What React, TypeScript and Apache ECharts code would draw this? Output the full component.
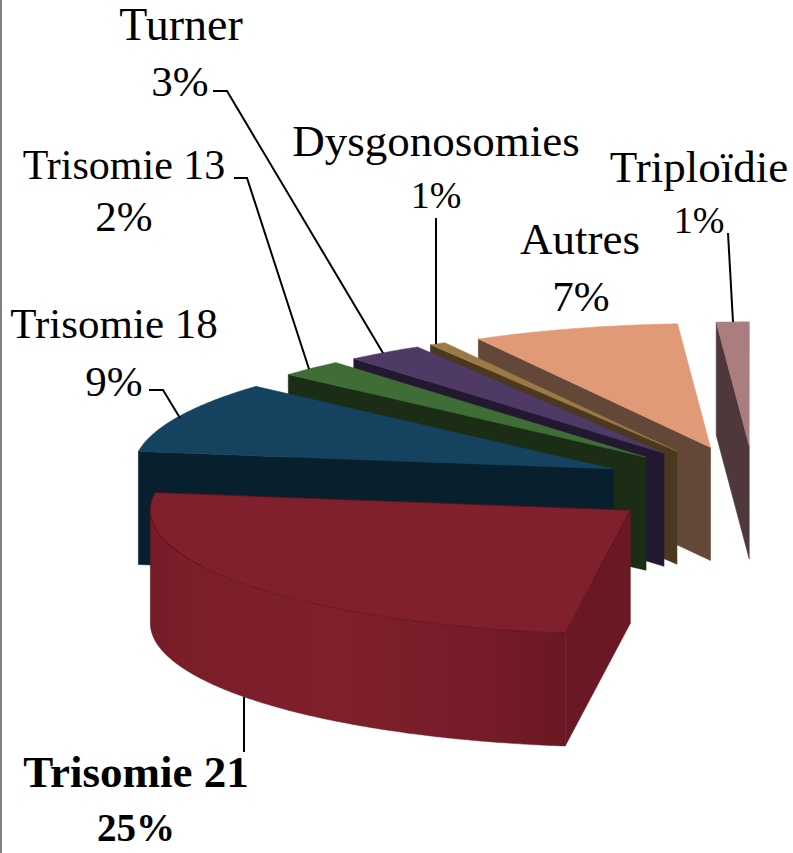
import React, { useEffect, useRef } from "react";
import * as echarts from "echarts";

const categories = ["Trisomie 21", "Trisomie 18", "Trisomie 13", "Turner", "Dysgonosomies", "Autres", "Triploïdie"];
const seriesValues = [25.1, 9.35, 2.2, 2.6, 0.55, 6.94, 1.1];
const topColors = ["#7F202C", "#15435F", "#3F6D35", "#4F3A65", "#9C7A45", "#E09A78", "#AB7D7F"];
const wallColors = ["#6A1823", "#08202E", "#1B2E15", "#221830", "#4A3820", "#634737", "#4E383B"];

const START_ANGLE = 97.8;
const CX = 754.5, CY = 486, RX = 480, RY = 124, DEPTH = 113, EXPLODE = 0.324;
const FONT = "'Liberation Serif', serif";

const labelPlaces = [
  { n: [136, 772], p: [136, 827], ns: 45, ps: 39, bold: true },
  { n: [114, 323], p: [114, 381], ns: 43, ps: 43 },
  { n: [124, 165], p: [124, 216], ns: 42, ps: 43 },
  { n: [181, 24], p: [180, 81], ns: 46, ps: 43 },
  { n: [436, 141], p: [436, 195], ns: 45, ps: 38 },
  { n: [580, 239], p: [581, 296], ns: 45, ps: 43 },
  { n: [699, 167], p: [699, 220], ns: 45, ps: 38 },
];
const leaders = [
  [[244, 697], [244, 752]],
  [[149, 390], [163, 390], [180, 418]],
  [[234, 178], [247, 178], [309, 369]],
  [[213, 91], [227, 91], [383, 353]],
  [[436, 218], [436, 344]],
  [[728, 233], [733, 322]],
];

const rad = (d: number) => (d * Math.PI) / 180;

function renderItem(params: any, api: any) {
  const i = api.value(0) as number;
  const t0 = api.value(1) as number;
  const t1 = api.value(2) as number;
  const mid = rad((t0 + t1) / 2);
  const ax = CX + EXPLODE * RX * Math.cos(mid);
  const ay = CY + EXPLODE * RY * Math.sin(mid);
  const at = (d: number): number[] => [ax + RX * Math.cos(rad(d)), ay + RY * Math.sin(rad(d))];
  const down = (p: number[]): number[] => [p[0], p[1] + DEPTH];
  const arc: number[][] = [];
  const steps = Math.max(2, Math.ceil(t1 - t0) * 2);
  for (let k = 0; k <= steps; k++) arc.push(at(t0 + ((t1 - t0) * k) / steps));
  const top = topColors[i];
  const wall = wallColors[i];
  const isMain = i === 0;
  const edge = isMain ? "#57121C" : top;
  const children: any[] = [];

  // Radial wall on the slice's leading edge
  const p0 = at(t0);
  children.push({
    type: "polygon",
    shape: { points: [[ax, ay], p0, down(p0), [ax, ay + DEPTH]] },
    style: { fill: wall, stroke: wall, lineWidth: 0.6 },
  });

  // Outer curved wall where it faces the viewer
  const front: number[][] = [];
  const fEnd = Math.min(t1, 180);
  if (t0 < 180) {
    for (let d = t0; d <= fEnd + 0.001; d += 0.5) front.push(at(d));
    children.push({
      type: "polygon",
      shape: { points: [...front, ...front.map(down).reverse()] },
      style: {
        fill: new echarts.graphic.LinearGradient(0, 0, 1, 0, [
          { offset: 0, color: "#741C28" },
          { offset: 0.08, color: "#7A1E2A" },
          { offset: 0.45, color: "#7F202C" },
          { offset: 0.85, color: "#731B27" },
          { offset: 1, color: "#6A1823" },
        ]),
        stroke: "#6A1823",
        lineWidth: 0.5,
      },
    });
  }

  // Top face
  children.push({
    type: "polygon",
    shape: { points: [[ax, ay], ...arc] },
    style: { fill: top, stroke: edge, lineWidth: isMain ? 0.8 : 0.5 },
  });
  return { type: "group", children };
}

export default function App() {
  const ref = useRef<HTMLDivElement>(null);
  useEffect(() => {
    document.body.style.margin = "0";
    const chart = echarts.init(ref.current!, undefined, { renderer: "svg" });
    let acc = START_ANGLE;
    const rows = seriesValues.map((v, i) => {
      const t0 = acc;
      acc += v * 3.6;
      return [i, t0, acc, v];
    });
    const texts: any[] = [];
    categories.forEach((name, i) => {
      const pl: any = labelPlaces[i];
      const w = pl.bold ? "bold " : "";
      texts.push(
        { type: "text", x: pl.n[0], y: pl.n[1], z: 10, style: { text: name, font: `${w}${pl.ns}px ${FONT}`, fill: "#000", textAlign: "center", textVerticalAlign: "middle" } },
        { type: "text", x: pl.p[0], y: pl.p[1], z: 10, style: { text: `${Math.round(seriesValues[i])}%`, font: `${w}${pl.ps}px ${FONT}`, fill: "#000", textAlign: "center", textVerticalAlign: "middle" } }
      );
    });
    const lines = leaders.map((pts) => ({
      type: "polyline",
      z: 10,
      shape: { points: pts },
      style: { stroke: "#000", lineWidth: 2, fill: "none" },
    }));
    chart.setOption({
      animation: false,
      backgroundColor: "#fff",
      series: [
        {
          type: "custom",
          coordinateSystem: "none",
          silent: true,
          z: 2,
          renderItem,
          encode: { value: 3 },
          data: rows.slice().reverse(),
        },
      ],
      graphic: [
        { type: "rect", z: 10, shape: { x: 0, y: 0, width: 2, height: 853 }, style: { fill: "#808080" } },
        ...lines,
        ...texts,
      ],
    });
    return () => chart.dispose();
  }, []);
  return <div ref={ref} style={{ width: 793, height: 853 }} />;
}
